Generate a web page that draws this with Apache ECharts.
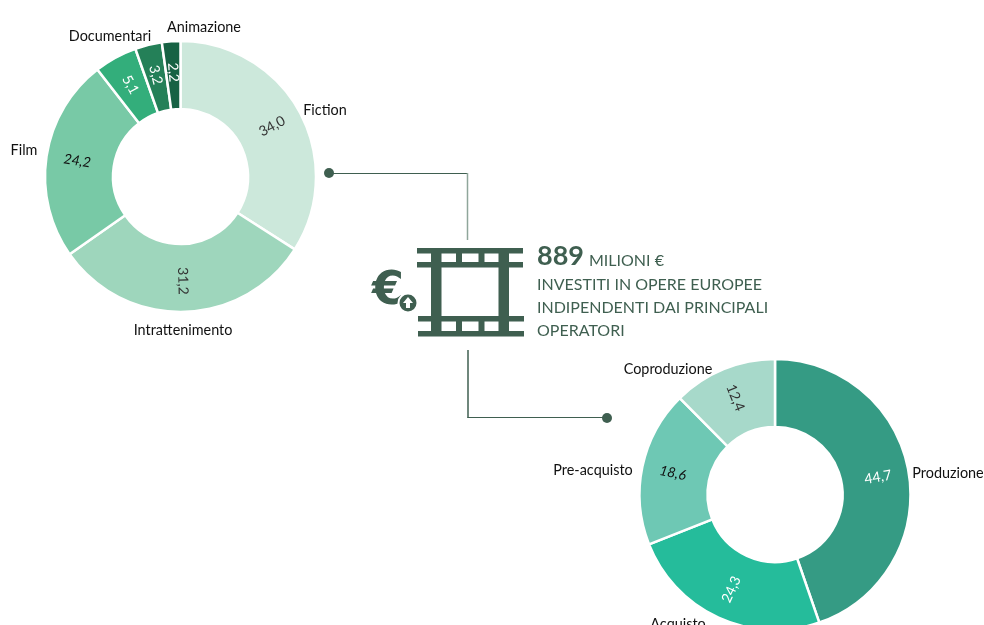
<!DOCTYPE html>
<html><head><meta charset="utf-8">
<style>html,body{margin:0;padding:0;background:#fff}#c{width:984px;height:625px}</style>
<script src="https://cdn.jsdelivr.net/npm/echarts@6/dist/echarts.min.js"></script>
</head><body><div id="c"></div>
<script>
const genreNames = ['Fiction','Intrattenimento','Film','Documentari','','Animazione'];
const genreValues = [34.0,31.2,24.2,5.1,3.2,2.2];
const genreColors = ['#CCE8DB','#9ED6BC','#78C9A6','#33AE7B','#248058','#176244'];
const genreLabelColors = ['#333','#333','#111','#fff','#fff','#fff'];
const genreItalic = [false,false,true,false,false,false];
const genreNamePos = [[325,110],[183,330],[24,150],[110,36],null,[204,27]];

const modeNames = ['Produzione','Acquisto','Pre-acquisto','Coproduzione'];
const modeValues = [44.7,24.3,18.6,12.4];
const modeColors = ['#359B84','#25BC9B','#6EC8B4','#A7D9CA'];
const modeLabelColors = ['#fff','#fff','#111','#333'];
const modeItalic = [false,false,true,false];
const modeNamePos = [[948,473],[678,624],[593,470],[668,369]];

const headline = '889';
const headlineUnit = 'MILIONI €';
const descLines = ['INVESTITI IN OPERE EUROPEE','INDIPENDENTI DAI PRINCIPALI','OPERATORI'];

const FONT = 'Lato';
const DARK = '#3F5F50';
const LIGHT = '#8FA69B';
const fmt = v => v.toFixed(1).replace('.',',');

function donut(names, values, colors, labelColors, italics, center, radius){
  return {
    type:'pie', center, radius, startAngle:90, clockwise:true, silent:true, animation:false,
    label:{show:true, position:'inside', rotate:'radial', fontFamily:FONT, fontSize:14,
      formatter:p=>fmt(p.value)},
    labelLine:{show:false},
    itemStyle:{borderColor:'#fff', borderWidth:2.5},
    data: values.map((v,i)=>({name:names[i]||('s'+i), value:v,
      itemStyle:{color:colors[i]},
      label:{color:labelColors[i], fontStyle:italics[i]?'italic':'normal'}}))
  };
}
function nameTexts(names,pos){
  return names.map((n,i)=>pos[i]?({type:'text',x:pos[i][0],y:pos[i][1],
    style:{text:n,fill:'#111',font:'14.4px '+FONT,textAlign:'center',textVerticalAlign:'middle'}}):null).filter(Boolean);
}
const rect=(x,y,w,h)=>({type:'rect',shape:{x,y,width:w,height:h},style:{fill:DARK}});
const seg=(x1,y1,x2,y2,c,w)=>({type:'line',shape:{x1,y1,x2,y2},style:{stroke:c,lineWidth:w}});
const dot=(x,y)=>({type:'circle',shape:{cx:x,cy:y,r:5},style:{fill:DARK}});
const icon=[
  rect(417,248,106,5.5),rect(417,262,106,5.5),rect(418,316,106,5.5),rect(418,331,106,5.5),
  rect(431,248,10.5,88),rect(498.5,248,10.5,88),
  rect(456,248,6,19),rect(478.5,248,6,19),rect(456,316,6,20),rect(478.5,316,6,20),
  {type:'text',x:388,y:292,style:{text:'€',fill:DARK,font:'bold 46px "DejaVu Sans"',textAlign:'center',textVerticalAlign:'middle'}},
  {type:'circle',shape:{cx:408,cy:303,r:9.5},style:{fill:DARK,stroke:'#fff',lineWidth:2}},
  {type:'polygon',shape:{points:[[408,297],[413,303],[403,303]]},style:{fill:'#fff'}},
  {type:'rect',shape:{x:406,y:302,width:4,height:6},style:{fill:'#fff'}}
];
const texts=[
  {type:'text',x:537,y:256,style:{text:headline,fill:DARK,font:'bold 27px '+FONT,textAlign:'left',textVerticalAlign:'middle'}},
  {type:'text',x:589,y:261,style:{text:headlineUnit,fill:DARK,font:'16px '+FONT,textAlign:'left',textVerticalAlign:'middle'}},
  ...descLines.map((t,i)=>({type:'text',x:537,y:285+i*23,style:{text:t,fill:DARK,font:'16px '+FONT,textAlign:'left',textVerticalAlign:'middle'}}))
];
const chart=echarts.init(document.getElementById('c'),null,{renderer:'canvas'});
chart.setOption({
  backgroundColor:'#fff', animation:false,
  series:[
    donut(genreNames,genreValues,genreColors,genreLabelColors,genreItalic,[180.5,176.5],[67.5,135.5]),
    donut(modeNames,modeValues,modeColors,modeLabelColors,modeItalic,[775,494.5],[67.5,135.5])
  ],
  graphic:[
    seg(329,173.5,468,173.5,DARK,1), seg(467.5,173,467.5,240,LIGHT,1.5),
    dot(329,173),
    seg(468,350,468,418,DARK,1.5), seg(467.5,417.5,607,417.5,DARK,1),
    dot(607,418),
    ...icon,...texts,
    ...nameTexts(genreNames,genreNamePos),
    ...nameTexts(modeNames,modeNamePos)
  ]
});
</script></body></html>
